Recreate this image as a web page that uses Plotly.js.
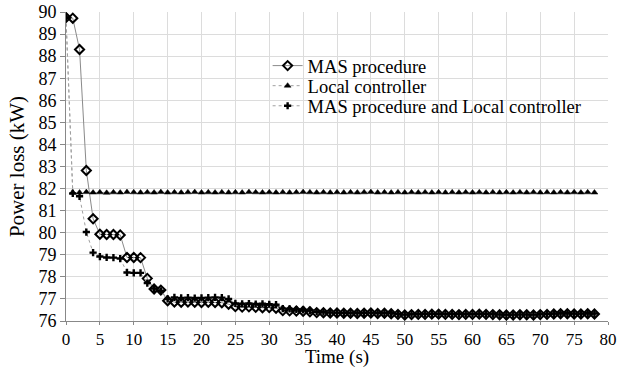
<!DOCTYPE html>
<html>
<head>
<meta charset="utf-8">
<script src="https://cdn.plot.ly/plotly-3.0.1.min.js"></script>
<style>
html,body{margin:0;padding:0;background:#fff;}
#chart{width:617px;height:368px;}
</style>
</head>
<body>
<div id="chart"></div>
<script>
const time = [0,1,2,3,4,5,6,7,8,9,10,11,12,13,14,15,16,17,18,19,20,21,22,23,24,25,26,27,28,29,30,31,32,33,34,35,36,37,38,39,40,41,42,43,44,45,46,47,48,49,50,51,52,53,54,55,56,57,58,59,60,61,62,63,64,65,66,67,68,69,70,71,72,73,74,75,76,77,78];

const masProcedure = [89.75,89.72,88.30,82.82,80.63,79.93,79.92,79.92,79.90,78.88,78.88,78.87,77.93,77.45,77.40,76.92,
  76.86,76.85,76.86,76.85,76.84,76.85,76.84,76.83,76.76,
  76.65,76.63,76.64,76.62,76.60,76.61,76.58,76.47,76.46,76.45,76.44,76.42,76.38,76.37,76.36,
  76.36,76.35,76.35,76.34,76.35,76.36,76.34,76.35,76.33,76.30,76.27,76.29,76.30,76.30,76.31,
  76.31,76.30,76.30,76.29,76.30,76.30,76.31,76.30,76.29,76.28,76.27,76.27,76.28,76.28,76.27,
  76.29,76.30,76.32,76.33,76.33,76.32,76.32,76.33,76.32];

const localController = [89.75,81.83,81.82,81.84,81.82,81.83,81.81,81.83,81.82,81.84,81.83,81.82,81.83,81.82,81.84,81.82,
  81.83,81.82,81.83,81.84,81.82,81.83,81.82,81.83,81.82,81.83,81.82,81.84,81.83,81.82,81.83,81.82,
  81.83,81.82,81.83,81.84,81.83,81.82,81.83,81.82,81.83,81.82,81.83,81.82,81.83,81.84,81.82,81.83,
  81.82,81.83,81.82,81.83,81.82,81.83,81.82,81.83,81.82,81.83,81.82,81.83,81.82,81.83,81.82,81.83,
  81.82,81.83,81.82,81.83,81.82,81.83,81.82,81.83,81.82,81.83,81.82,81.83,81.82,81.83,81.82];

const masAndLocal = [89.75,81.78,81.65,80.03,79.10,78.92,78.88,78.87,78.83,78.20,78.18,78.18,77.72,77.47,77.37,77.00,
  77.07,77.05,77.06,77.04,77.05,77.06,77.07,77.06,77.00,
  76.80,76.78,76.79,76.77,76.78,76.76,76.74,76.56,76.55,76.52,76.50,76.48,76.42,76.40,76.39,
  76.38,76.37,76.37,76.36,76.37,76.38,76.36,76.37,76.35,76.32,76.29,76.31,76.32,76.32,76.33,
  76.33,76.32,76.32,76.31,76.32,76.32,76.33,76.32,76.31,76.30,76.29,76.29,76.30,76.30,76.29,
  76.31,76.32,76.34,76.35,76.35,76.34,76.34,76.35,76.34];

const seriesNames = ['MAS procedure','Local controller','MAS procedure and Local controller'];

const traces = [
  {x: time, y: masProcedure, name: seriesNames[0], type:'scatter', mode:'lines+markers', legend:'legend',
   line:{color:'#8a8a8a', width:1},
   marker:{symbol:'diamond-open', size:7, color:'#000', line:{color:'#000', width:2}}},
  {x: time, y: localController, name: seriesNames[1], type:'scatter', mode:'lines+markers', legend:'legend2',
   line:{color:'#a0a0a0', width:1, dash:'dot'},
   marker:{symbol:'triangle-up', size:6, color:'#000', line:{color:'#000', width:0.5}}},
  {x: time, y: masAndLocal, name: seriesNames[2], type:'scatter', mode:'lines+markers', legend:'legend3',
   line:{color:'#a0a0a0', width:1, dash:'dot'},
   marker:{symbol:'cross', size:6, color:'#000'}}
];

const fam = 'Liberation Serif, Times New Roman, serif';
function legendAt(yc){
  return {x:0.372, y:yc, xanchor:'left', yanchor:'middle', bgcolor:'rgba(0,0,0,0)',
          font:{family:fam, size:18.5, color:'#000'}, itemwidth:30};
}

const layout = {
  width:617, height:368,
  margin:{l:66, r:9, t:12, b:47, pad:0},
  paper_bgcolor:'#fff', plot_bgcolor:'#fff',
  font:{family:fam, size:18, color:'#000'},
  showlegend:true,
  legend:legendAt(0.825),
  legend2:legendAt(0.760),
  legend3:legendAt(0.695),
  shapes:[{type:'rect', xref:'paper', yref:'paper', x0:0.35, x1:0.985, y0:0.645, y1:0.87,
           fillcolor:'#fff', line:{width:0}, layer:'between'}],
  xaxis:{range:[0,80], dtick:5, tick0:0, showline:true, linecolor:'#888', linewidth:1,
         ticks:'outside', ticklen:3, tickcolor:'#888', showgrid:true, gridcolor:'#dcdcdc', gridwidth:1,
         zeroline:false, tickfont:{family:fam, size:17, color:'#000'},
         title:{text:'Time (s)', font:{family:fam, size:19, color:'#000'}, standoff:0}},
  yaxis:{range:[76,90], dtick:1, tick0:76, showline:true, linecolor:'#888', linewidth:1,
         ticks:'outside', ticklen:5, tickcolor:'#888', showgrid:true, gridcolor:'#dcdcdc', gridwidth:1,
         zeroline:false, tickfont:{family:fam, size:18, color:'#000'},
         title:{text:'Power loss (kW)', font:{family:fam, size:21, color:'#000'}, standoff:8}}
};

Plotly.newPlot('chart', traces, layout, {displayModeBar:false, staticPlot:true});
</script>
</body>
</html>
